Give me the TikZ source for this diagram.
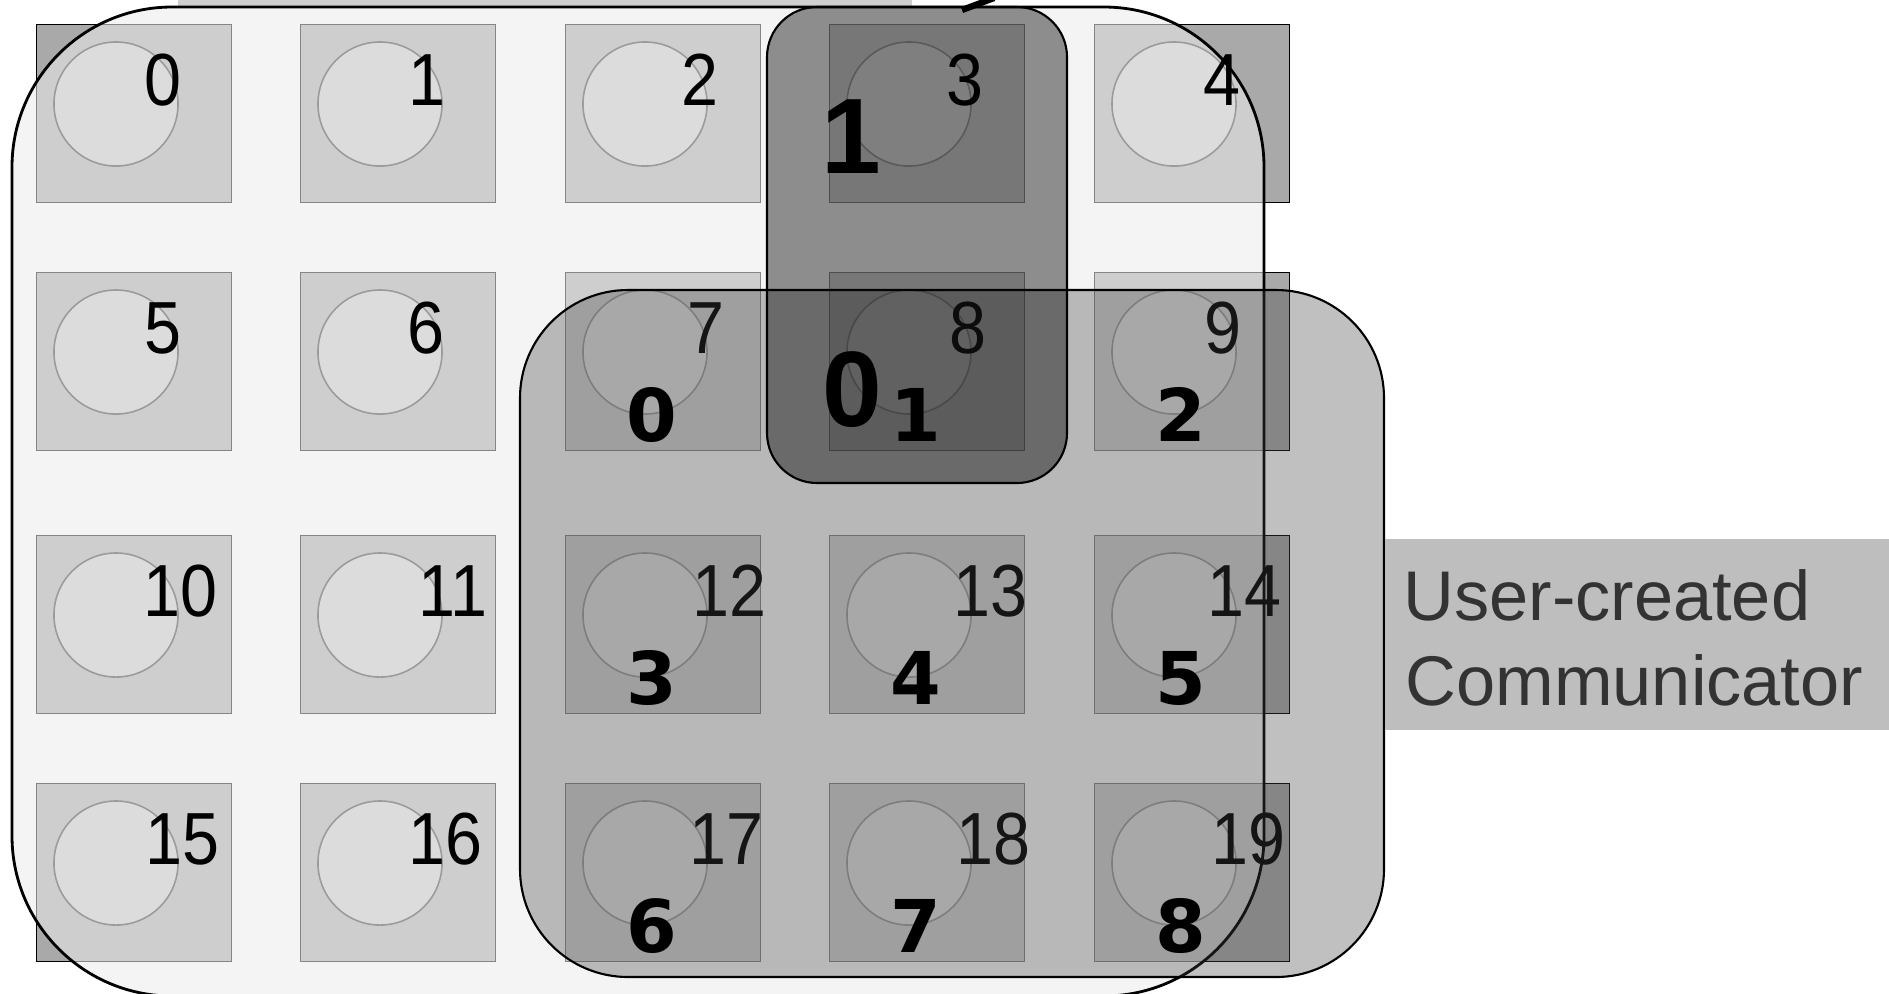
\documentclass[tikz,border=0pt]{standalone}
\usepackage{fontspec}
\setmainfont{Liberation Sans}
\newfontfamily\numfont[FakeStretch=0.9]{Liberation Sans}
\newfontfamily\boldnumfont{DejaVu Sans}
\definecolor{boxgrey}{HTML}{A9A9A9}
\definecolor{circgrey}{HTML}{CACACA}
\definecolor{worldtone}{HTML}{EBEBEB}
\definecolor{commtone}{HTML}{404040}
\definecolor{labelgrey}{HTML}{BEBEBE}
\definecolor{labeltext}{HTML}{333333}
\definecolor{stripgrey}{HTML}{CFCFCF}
\tikzset{
  procbox/.style={fill=boxgrey, draw=black, line width=0.3pt},
  proccirc/.style={fill=circgrey, draw=black!80, line width=0.45pt},
  worldregion/.style={fill=worldtone, fill opacity=0.57, draw=black, line width=0.8pt, rounded corners=1.6cm},
  commregion/.style={fill=commtone, fill opacity=0.33, draw=black, line width=0.6pt, rounded corners=1.08cm},
  subregion/.style={fill=black, fill opacity=0.42, draw=black, line width=0.6pt, rounded corners=0.5cm},
  worldrank/.style={font=\numfont\fontsize{21pt}{25pt}\selectfont, inner sep=0pt, anchor=base west, text=black},
  commrank/.style={font=\boldnumfont\bfseries\fontsize{20.7pt}{25pt}\selectfont, inner sep=0pt, anchor=base, text=black},
  subrank/.style={font=\bfseries\fontsize{30.5pt}{36pt}\selectfont, inner sep=0pt, anchor=base, text=black},
  labeltxt/.style={font=\fontsize{20pt}{24pt}\selectfont, inner sep=0pt, anchor=base west, text=labeltext}
}
\begin{document}
\begin{tikzpicture}[x=0.01cm, y=-0.01cm]
\useasboundingbox (0,0) rectangle (1889,993);
% strip of a label above the picture (cut off)
\fill[stripgrey] (178,-30) rectangle (912,7);
% process boxes
\foreach \c/\x in {0/36,1/300,2/565,3/829,4/1094}{
  \foreach \r/\y in {0/24,1/272,2/535,3/783}{
    \pgfmathtruncatemacro{\n}{\r*5+\c}
    \node[procbox, minimum width=1.95cm, minimum height=1.78cm, inner sep=0pt, anchor=north west] (box\n) at (\x,\y) {};
    \node[proccirc, circle, minimum size=1.24cm, inner sep=0pt] (circ\n) at (\x+80,\y+80) {};
  }
}
% MPI_COMM_WORLD region
\draw[worldregion] (12,7) rectangle (1264,996);
% world ranks
\node[worldrank] (n0) at (144,105) {0};
\node[worldrank] (n1) at (408,105) {1};
\node[worldrank] (n2) at (681,105) {2};
\node[worldrank] (n3) at (946,105) {3};
\node[worldrank] (n4) at (1203,105) {4};
\node[worldrank] (n5) at (144,353) {5};
\node[worldrank] (n6) at (407,353) {6};
\node[worldrank] (n7) at (687,353) {7};
\node[worldrank] (n8) at (949,353) {8};
\node[worldrank] (n9) at (1204,353) {9};
\node[worldrank] (n10) at (143,616) {10};
\node[worldrank] (n11) at (418,616) {11};
\node[worldrank] (n12) at (692,616) {12};
\node[worldrank] (n13) at (953,616) {13};
\node[worldrank] (n14) at (1207,616) {14};
\node[worldrank] (n15) at (145,864) {15};
\node[worldrank] (n16) at (408,864) {16};
\node[worldrank] (n17) at (689,864) {17};
\node[worldrank] (n18) at (956,864) {18};
\node[worldrank] (n19) at (1211,864) {19};
% user-created communicator
\draw[commregion] (520,290) rectangle (1384,977);
\fill[labelgrey] (1385,539) rectangle (1889,730);
\node[labeltxt] (lab1) at (1403,620) {User-created};
\node[labeltxt] (lab2) at (1405,705) {Communicator};
% communicator ranks
\node[commrank] (c0) at (652,441) {0};
\node[commrank] (c1) at (916,441) {1};
\node[commrank] (c2) at (1181,441) {2};
\node[commrank] (c3) at (652,704) {3};
\node[commrank] (c4) at (916,704) {4};
\node[commrank] (c5) at (1181,704) {5};
\node[commrank] (c6) at (652,952) {6};
\node[commrank] (c7) at (916,952) {7};
\node[commrank] (c8) at (1181,952) {8};
% small sub-communicator
\draw[subregion] (767,7) rectangle (1067,483);
\node[subrank] (s1) at (851,173) {1};
\node[subrank] (s0) at (852,426) {0};
% descender of cut-off text
\draw[line width=1.8pt] (962,10) -- (994,-2);
\end{tikzpicture}
\end{document}
